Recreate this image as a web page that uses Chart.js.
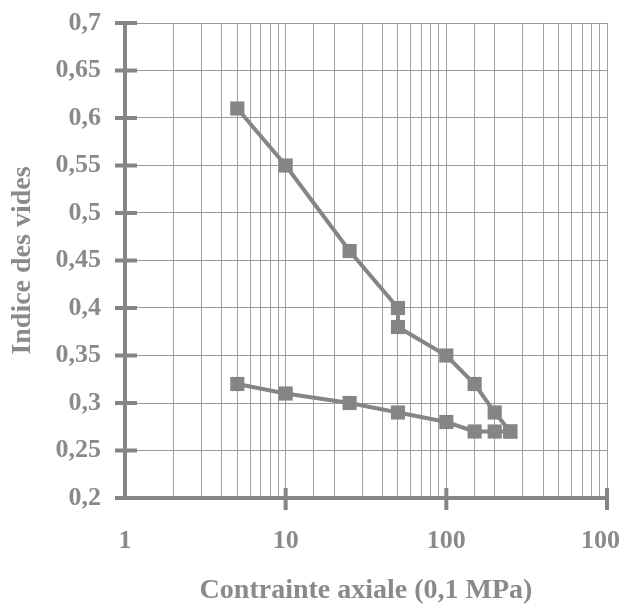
<!DOCTYPE html>
<html>
<head>
<meta charset="utf-8">
<script src="https://cdn.jsdelivr.net/npm/chart.js@4/dist/chart.umd.min.js"></script>
<style>
  html, body { margin: 0; padding: 0; background: #fff; }
  #wrap { width: 624px; height: 608px; }
</style>
</head>
<body>
<div id="wrap"><canvas id="compChart" width="624" height="608"></canvas></div>
<script>
// Loading branch (contrainte en 0,1 MPa / indice des vides)
const stressLoad = [5, 10, 25, 50, 50, 100, 150, 200, 250];
const voidLoad = [0.61, 0.55, 0.46, 0.40, 0.38, 0.35, 0.32, 0.29, 0.27];
// Unloading branch
const stressUnload = [250, 200, 150, 100, 50, 25, 10, 5];
const voidUnload = [0.27, 0.27, 0.27, 0.28, 0.29, 0.30, 0.31, 0.32];

const xTickValues = [1, 10, 100, 1000];
const xTickLabels = ['1', '10', '100', '100'];
const yTickValues = [0.2, 0.25, 0.3, 0.35, 0.4, 0.45, 0.5, 0.55, 0.6, 0.65, 0.7];
const yTickLabels = ['0,2', '0,25', '0,3', '0,35', '0,4', '0,45', '0,5', '0,55', '0,6', '0,65', '0,7'];

const grey = '#858585';
const textGrey = '#8a8a8a';
const fontFam = '"Liberation Serif", "DejaVu Serif", serif';

function toPoints(xs, ys) {
  return xs.map((x, i) => ({ x: x, y: ys[i] }));
}

// thick tick marks crossing the axes
const crossTicks = {
  id: 'crossTicks',
  afterDraw(chart) {
    const ctx = chart.ctx;
    const xs = chart.scales.x, ys = chart.scales.y;
    ctx.save();
    ctx.strokeStyle = grey;
    ctx.lineWidth = 4;
    yTickValues.forEach(v => {
      const py = ys.getPixelForValue(v);
      ctx.beginPath();
      ctx.moveTo(xs.left - 10, py);
      ctx.lineTo(xs.left + 12, py);
      ctx.stroke();
    });
    xTickValues.slice(1).forEach(v => {
      const px = xs.getPixelForValue(v);
      ctx.beginPath();
      ctx.moveTo(px, ys.bottom - 10);
      ctx.lineTo(px, ys.bottom + 12);
      ctx.stroke();
    });
    ctx.restore();
  }
};

const commonDs = {
  borderColor: grey,
  backgroundColor: grey,
  borderWidth: 4,
  pointStyle: 'rect',
  pointRadius: 10,
  pointBorderWidth: 0,
  showLine: true,
  tension: 0
};

new Chart(document.getElementById('compChart').getContext('2d'), {
  type: 'scatter',
  data: {
    datasets: [
      Object.assign({ label: 'Chargement', data: toPoints(stressLoad, voidLoad) }, commonDs),
      Object.assign({ label: 'Déchargement', data: toPoints(stressUnload, voidUnload) }, commonDs)
    ]
  },
  options: {
    responsive: false,
    animation: false,
    layout: { padding: { top: 23, right: 17, left: 0, bottom: 0 } },
    plugins: {
      legend: { display: false },
      tooltip: { enabled: false }
    },
    scales: {
      x: {
        type: 'logarithmic',
        min: 1,
        max: 1000,
        afterFit: s => { s.height = 110; s.paddingLeft = 0; s.paddingRight = 0; },
        border: { color: grey, width: 4 },
        grid: { color: '#a0a0a0', lineWidth: 1, tickLength: 0 },
        ticks: {
          autoSkip: false,
          maxRotation: 0,
          padding: 28,
          color: textGrey,
          font: { family: fontFam, size: 26, weight: 'bold' },
          callback: function (v) {
            const i = xTickValues.indexOf(v);
            if (i < 0) return '';
            // last label sits at the right edge, nudge it inward
            return i === xTickValues.length - 1 ? xTickLabels[i] + '  ' : xTickLabels[i];
          }
        },
        title: {
          display: true,
          text: 'Contrainte axiale (0,1 MPa)',
          color: textGrey,
          font: { family: fontFam, size: 28, weight: 'bold' },
          padding: { top: 0, bottom: 0 }
        }
      },
      y: {
        min: 0.2,
        max: 0.7,
        afterFit: s => { s.width = 125; s.paddingTop = 0; s.paddingBottom = 0; },
        afterBuildTicks: s => { s.ticks = yTickValues.map(v => ({ value: v })); },
        border: { color: grey, width: 4 },
        grid: { color: '#999999', lineWidth: 1, tickLength: 0 },
        ticks: {
          padding: 24,
          color: textGrey,
          font: { family: fontFam, size: 26, weight: 'bold' },
          callback: function (v) {
            const i = yTickValues.findIndex(t => Math.abs(t - v) < 1e-6);
            return i >= 0 ? yTickLabels[i] : '';
          }
        },
        title: {
          display: true,
          text: 'Indice des vides',
          color: textGrey,
          font: { family: fontFam, size: 28, weight: 'bold' },
          padding: { top: 6, bottom: 0 }
        }
      }
    }
  },
  plugins: [crossTicks]
});
</script>
</body>
</html>
